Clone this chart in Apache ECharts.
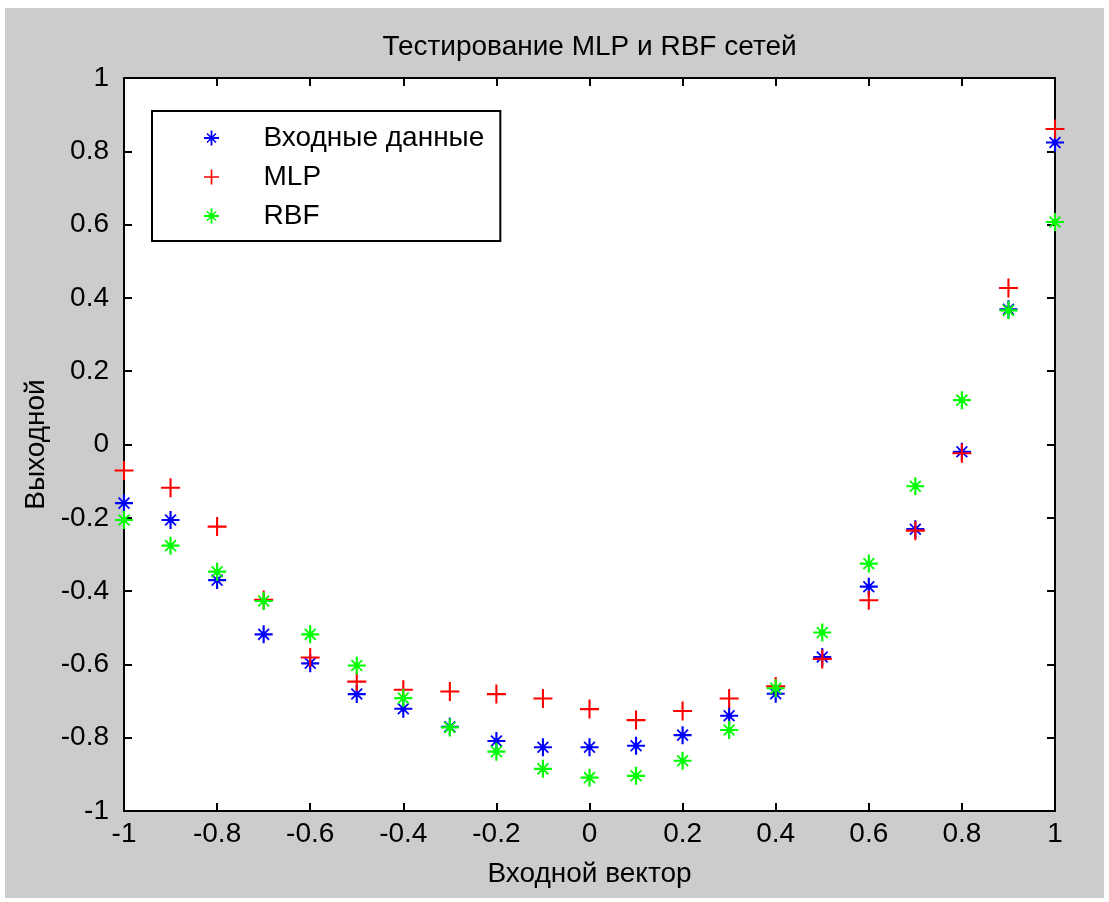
<!DOCTYPE html>
<html>
<head>
<meta charset="utf-8">
<script src="https://cdn.jsdelivr.net/npm/echarts@6/dist/echarts.min.js"></script>
<style>
  html, body { margin: 0; padding: 0; background: #ffffff; }
  #frame { position: absolute; left: 5px; top: 8px; width: 1099px; height: 890px; background: #cccccc; }
  #chart { position: absolute; left: 0; top: 0; width: 1109px; height: 902px; }
</style>
</head>
<body>
<div id="frame"></div>
<div id="chart"></div>
<script>
// ---- data ----
const xValues = [-1, -0.9, -0.8, -0.7, -0.6, -0.5, -0.4, -0.3, -0.2, -0.1, 0, 0.1, 0.2, 0.3, 0.4, 0.5, 0.6, 0.7, 0.8, 0.9, 1];
const inputValues = [-0.160, -0.206, -0.370, -0.518, -0.597, -0.681, -0.721, -0.770, -0.809, -0.826, -0.826, -0.822, -0.793, -0.740, -0.680, -0.580, -0.388, -0.231, -0.020, 0.369, 0.824];
const mlpValues = [-0.071, -0.118, -0.224, -0.424, -0.581, -0.647, -0.669, -0.674, -0.681, -0.693, -0.722, -0.752, -0.727, -0.693, -0.660, -0.585, -0.425, -0.235, -0.024, 0.427, 0.861];
const rbfValues = [-0.206, -0.276, -0.347, -0.427, -0.518, -0.603, -0.692, -0.772, -0.838, -0.885, -0.909, -0.904, -0.863, -0.779, -0.665, -0.513, -0.325, -0.114, 0.121, 0.366, 0.607];
const seriesNames = ['Входные данные', 'MLP', 'RBF'];
const titleText = 'Тестирование MLP и RBF сетей';
const xAxisName = 'Входной вектор';
const yAxisName = 'Выходной';

// ---- marker shapes ----
const starPath = 'path://M-1.2,-10L1.2,-10L1.2,10L-1.2,10Z M-10,-1.2L10,-1.2L10,1.2L-10,1.2Z M-6.7,-5.3L-5.3,-6.7L6.7,5.3L5.3,6.7Z M5.3,-6.7L6.7,-5.3L-5.3,6.7L-6.7,5.3Z M-3,-3L3,-3L3,3L-3,3Z';
const plusPath = 'path://M-1.1,-10L1.1,-10L1.1,10L-1.1,10Z M-10,-1.1L10,-1.1L10,1.1L-10,1.1Z';

const FONT = '"Liberation Sans", Arial, sans-serif';
const FS = 28;
const pairs = vals => xValues.map((x, i) => [x, vals[i]]);

const baseAxis = {
  min: -1, max: 1, interval: 0.2,
  axisLine: { show: true, onZero: false, lineStyle: { color: '#000', width: 2 } },
  axisTick: { show: true, inside: true, length: 8, lineStyle: { color: '#000', width: 2 } },
  splitLine: { show: false }
};

const chart = echarts.init(document.getElementById('chart'), null, { renderer: 'canvas' });
chart.setOption({
  backgroundColor: 'transparent',
  animation: false,
  textStyle: { fontFamily: FONT },
  grid: { left: 124, top: 78, width: 931, height: 733, show: true, backgroundColor: '#ffffff', borderWidth: 0 },
  xAxis: [
    Object.assign({}, baseAxis, {
      type: 'value', position: 'bottom',
      axisLabel: { color: '#000', fontSize: FS, fontFamily: FONT, margin: 9 },
      name: xAxisName, nameLocation: 'middle', nameGap: 49,
      nameTextStyle: { color: '#000', fontSize: FS, fontFamily: FONT }
    }),
    Object.assign({}, baseAxis, {
      type: 'value', position: 'top',
      axisLabel: { show: false },
      name: titleText, nameLocation: 'middle', nameGap: 17,
      nameTextStyle: { color: '#000', fontSize: FS, fontFamily: FONT }
    })
  ],
  yAxis: [
    Object.assign({}, baseAxis, {
      type: 'value', position: 'left',
      axisLabel: { color: '#000', fontSize: FS, fontFamily: FONT, margin: 15 },
      name: yAxisName, nameLocation: 'middle', nameGap: 72, nameRotate: 90,
      nameTextStyle: { color: '#000', fontSize: FS, fontFamily: FONT }
    }),
    Object.assign({}, baseAxis, {
      type: 'value', position: 'right',
      axisLabel: { show: false }
    })
  ],
  legend: {
    orient: 'vertical',
    left: 152, top: 111,
    backgroundColor: '#ffffff',
    borderColor: '#000', borderWidth: 2, borderRadius: 0,
    padding: [13, 16, 11, 52],
    itemWidth: 94, itemHeight: 15, itemGap: 11,
    textStyle: { color: '#000', fontSize: FS, fontFamily: FONT, lineHeight: 28 },
    data: seriesNames
  },
  series: [
    {
      name: seriesNames[0], type: 'scatter', data: pairs(inputValues),
      symbol: starPath, symbolSize: 18, symbolKeepAspect: true,
      itemStyle: { color: '#0000ff', borderWidth: 0, opacity: 1 }
    },
    {
      name: seriesNames[1], type: 'scatter', data: pairs(mlpValues),
      symbol: plusPath, symbolSize: 19, symbolKeepAspect: true,
      itemStyle: { color: '#ff0000', borderWidth: 0, opacity: 1 }
    },
    {
      name: seriesNames[2], type: 'scatter', data: pairs(rbfValues),
      symbol: starPath, symbolSize: 18, symbolKeepAspect: true,
      itemStyle: { color: '#00ff00', borderWidth: 0, opacity: 1 }
    }
  ]
});
</script>
</body>
</html>
